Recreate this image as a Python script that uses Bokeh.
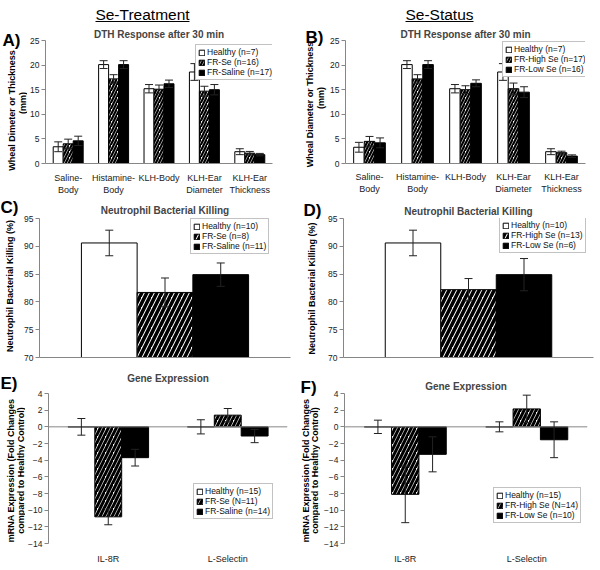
import math
from bokeh.plotting import figure
from bokeh.models import (ColumnDataSource, Whisker, TeeHead, Legend, LegendItem,
                          Label, Span, FixedTicker, Range1d, Plot)
from bokeh.layouts import column, row
from bokeh.embed import file_html
from bokeh.resources import INLINE

FONT = "Liberation Sans"

# ---------------- data ----------------
dth_categories = ["Saline-\nBody", "Histamine-\nBody", "KLH-Body", "KLH-Ear\nDiameter", "KLH-Ear\nThickness"]
dth_ticks = [0, 5, 10, 15, 20, 25]

a_series = ["Healthy (n=7)", "FR-Se (n=16)", "FR-Saline (n=17)"]
a_healthy = [3.4, 20.1, 15.2, 18.6, 2.4]
a_healthy_err = [1.0, 0.8, 0.85, 1.7, 0.6]
a_frse = [4.0, 17.2, 15.1, 14.7, 2.1]
a_frse_err = [0.95, 0.85, 0.85, 1.0, 0.35]
a_frsal = [4.6, 20.1, 16.2, 15.0, 1.8]
a_frsal_err = [0.95, 0.8, 0.75, 1.05, 0.25]

b_series = ["Healthy (n=7)", "FR-High Se (n=17)", "FR-Low Se (n=16)"]
b_healthy = [3.3, 20.1, 15.2, 18.6, 2.4]
b_healthy_err = [1.0, 0.8, 0.85, 1.7, 0.6]
b_high = [4.5, 17.2, 15.0, 15.2, 2.2]
b_high_err = [1.0, 0.85, 0.8, 1.15, 0.3]
b_low = [4.2, 20.1, 16.3, 14.5, 1.5]
b_low_err = [1.0, 0.8, 0.7, 1.1, 0.25]

kill_categories = [""]
kill_ticks = [70, 75, 80, 85, 90, 95]
c_series = ["Healthy (n=10)", "FR-Se (n=8)", "FR-Saline (n=11)"]
c_values = [90.6, 81.7, 84.9]
c_errors = [2.3, 2.6, 2.1]
d_series = ["Healthy (n=10)", "FR-High Se (n=13)", "FR-Low Se (n=6)"]
d_values = [90.6, 82.2, 84.9]
d_errors = [2.3, 2.0, 2.9]

gene_categories = ["IL-8R", "L-Selectin"]
gene_ticks = [4, 2, 0, -2, -4, -6, -8, -10, -12, -14]
e_series = ["Healthy (n=15)", "FR-Se (N=11)", "FR-Saline (n=14)"]
e_healthy = [0.0, 0.0]
e_healthy_err = [1.0, 0.85]
e_frse = [-10.8, 1.4]
e_frse_err = [0.95, 0.8]
e_frsal = [-3.7, -1.1]
e_frsal_err = [1.0, 0.8]

f_series = ["Healthy (n=15)", "FR-High Se (N=14)", "FR-Low Se (n=10)"]
f_healthy = [0.0, 0.0]
f_healthy_err = [0.8, 0.6]
f_high = [-8.1, 2.15]
f_high_err = [3.4, 1.65]
f_low = [-3.3, -1.55]
f_low_err = [2.1, 2.15]

headers = ["Se-Treatment", "Se-Status"]
panel_letters = ["A)", "B)", "C)", "D)", "E)", "F)"]
dth_ylabels = [["Wheal Dimeter or Thickness", "(mm)"], ["Wheal Diameter or Thickness", "(mm)"]]
kill_ylabel = ["Neutrophil Bacterial Killing (%)"]
gene_ylabel = ["mRNA Expression (Fold Changes", "compared to Healthy Control)"]

AXIS_GREY = "#868686"
HAS_FRAME_ALIGN = "frame_align" in Plot.properties()


def blank(width, height):
    p = figure(width=width, height=height, output_backend="svg", toolbar_location=None,
               x_range=Range1d(0, width), y_range=Range1d(0, height),
               x_axis_type=None, y_axis_type=None, title_location=None,
               min_border_left=0, min_border_right=0, min_border_top=0, min_border_bottom=0)
    p.outline_line_color = None
    p.xgrid.visible = False
    p.ygrid.visible = False
    if HAS_FRAME_ALIGN:
        p.frame_align = False
    return p


def gutter(width, height, letter, letter_pos, lines, line_pos):
    g = blank(width, height)
    lx, ly = letter_pos
    g.add_layout(Label(x=lx, y=height - ly, text=letter, text_font=FONT,
                       text_font_size="17px", text_font_style="bold",
                       text_align="left", text_baseline="middle", text_color="black"))
    for txt, (tx, ty) in zip(lines, line_pos):
        g.add_layout(Label(x=tx, y=height - ty, text=txt, angle=math.pi / 2,
                           text_font=FONT, text_font_size="9px", text_font_style="bold",
                           text_align="center", text_baseline="middle", text_color="black"))
    return g


def make_panel(width, height, borders, x_range, y_range, yticks, title,
               categories, series, values, errors, bar_width, legend_loc,
               hatch_scale, hatch_weight, bar_base=0.0, zero_line=False,
               show_xaxis_line=True, xlabel_standoff=4, title_standoff=2,
               title_valign="bottom", xlabel_size="9px"):
    left, right, top, bottom = borders
    p = figure(width=width, height=height, output_backend="svg", toolbar_location=None,
               x_range=Range1d(*x_range), y_range=Range1d(*y_range),
               min_border_left=left, min_border_right=right,
               min_border_top=top, min_border_bottom=bottom)
    p.outline_line_color = None
    p.xgrid.visible = False
    p.ygrid.visible = False

    p.title.text = title
    p.title.align = "center"
    p.title.vertical_align = title_valign
    p.title.text_font = FONT
    p.title.text_font_size = "10px"
    p.title.text_font_style = "bold"
    p.title.standoff = title_standoff

    yax = p.yaxis[0]
    yax.ticker = FixedTicker(ticks=yticks)
    yax.minor_tick_line_color = None
    yax.axis_line_color = AXIS_GREY
    yax.major_tick_line_color = AXIS_GREY
    yax.major_tick_out = 4
    yax.major_tick_in = 0
    yax.major_label_text_font = FONT
    yax.major_label_text_font_size = "8.5px"
    yax.major_label_text_color = "#222222"
    yax.major_label_standoff = 2

    xax = p.xaxis[0]
    idx = list(range(len(categories)))
    xax.ticker = FixedTicker(ticks=idx)
    xax.major_label_overrides = {i: c for i, c in zip(idx, categories)}
    xax.minor_tick_line_color = None
    xax.major_tick_line_color = None
    xax.major_tick_out = 0
    xax.major_tick_in = 0
    xax.axis_line_color = AXIS_GREY if show_xaxis_line else None
    xax.major_label_text_font = FONT
    xax.major_label_text_font_size = xlabel_size
    xax.major_label_text_color = "#222222"
    xax.major_label_standoff = xlabel_standoff

    styles = [
        dict(fill_color="white", line_color="black"),
        dict(fill_color="white", line_color="black", hatch_pattern="right_diagonal_line",
             hatch_color="black", hatch_scale=hatch_scale, hatch_weight=hatch_weight),
        dict(fill_color="black", line_color="black"),
    ]
    n = len(series)
    offsets = [(k - (n - 1) / 2) * bar_width for k in range(n)]
    items = []
    sources = []
    for k in range(n):
        vals = values[k]
        errs = errors[k]
        src = ColumnDataSource(dict(
            x=[i + offsets[k] for i in idx],
            top=vals,
            upper=[v + e for v, e in zip(vals, errs)],
            lower=[v - e for v, e in zip(vals, errs)],
        ))
        r = p.vbar(x="x", top="top", bottom=bar_base, width=bar_width, source=src,
                   line_width=1, **styles[k])
        items.append(LegendItem(label=series[k], renderers=[r]))
        sources.append(src)

    if zero_line:
        p.add_layout(Span(location=0, dimension="width", line_color=AXIS_GREY, line_width=1))

    for src in sources:
        w = Whisker(base="x", upper="upper", lower="lower", source=src,
                    line_color="#222222", line_width=1,
                    upper_head=TeeHead(size=8, line_color="#222222", line_width=1),
                    lower_head=TeeHead(size=8, line_color="#222222", line_width=1))
        w.level = "overlay"
        p.add_layout(w)

    legend = Legend(items=items, location=legend_loc)
    legend.border_line_color = AXIS_GREY
    legend.border_line_width = 1
    legend.background_fill_color = "white"
    legend.background_fill_alpha = 1.0
    legend.label_text_font = FONT
    legend.label_text_font_size = "8.5px"
    legend.label_text_color = "#111111"
    legend.glyph_width = 7
    legend.glyph_height = 7
    legend.label_height = 8
    legend.label_standoff = 2
    legend.spacing = 0
    legend.padding = 2
    legend.margin = 0
    p.add_layout(legend)
    return p


# ---------------- header strip ----------------
H0 = 25
hdr = blank(600, H0)
hdr.add_layout(Label(x=142, y=H0 - 14, text=headers[0], text_font=FONT, text_font_size="15.5px",
                     text_align="center", text_baseline="middle", text_color="black"))
hdr.add_layout(Label(x=439, y=H0 - 14, text=headers[1], text_font=FONT, text_font_size="15.5px",
                     text_align="center", text_baseline="middle", text_color="black"))
hdr.segment(x0=[95, 405], y0=[H0 - 21, H0 - 21], x1=[189, 473], y1=[H0 - 21, H0 - 21],
            line_color="black", line_width=1)

# ---------------- row 1 : DTH ----------------
R1 = 172
gA = gutter(27, R1, panel_letters[0], (2, 15), dth_ylabels[0], [(11.5, 85), (22.5, 77.5)])
pA = make_panel(273, R1, (15, 28, 15, 34), (-0.5, 4.5), (0, 25), dth_ticks,
                "DTH Response after 30 min", dth_categories, a_series,
                [a_healthy, a_frse, a_frsal], [a_healthy_err, a_frse_err, a_frsal_err],
                0.22, (150, 83), 6, 2.2, xlabel_standoff=9, title_standoff=1)
gB = gutter(27, R1, panel_letters[1], (5, 11.5), dth_ylabels[1], [(9, 79), (20.5, 72.5)])
pB = make_panel(273, R1, (15, 15, 15, 31), (-0.5, 4.5), (0, 25), dth_ticks,
                "DTH Response after 30 min", dth_categories, b_series,
                [b_healthy, b_high, b_low], [b_healthy_err, b_high_err, b_low_err],
                0.22, (157, 86), 6, 2.2, xlabel_standoff=8, title_standoff=1)

# ---------------- row 2 : killing ----------------
R2 = 167
gC = gutter(21, R2, panel_letters[2], (0, 9.5), kill_ylabel, [(9.5, 88.5)])
pC = make_panel(279, R2, (17, 10, 21, 7), (-0.5, 0.5), (70, 95), kill_ticks,
                "Neutrophil Bacterial Killing", kill_categories, c_series,
                [[v] for v in c_values], [[e] for e in c_errors], 0.222, (151, 103),
                10, 3.5, bar_base=70, xlabel_standoff=0, title_standoff=5,
                xlabel_size="1px")
gD = gutter(22, R2, panel_letters[3], (3, 12.5), kill_ylabel, [(11, 91)])
pD = make_panel(278, R2, (21, 7, 21, 7), (-0.5, 0.5), (70, 95), kill_ticks,
                "Neutrophil Bacterial Killing", kill_categories, d_series,
                [[v] for v in d_values], [[e] for e in d_errors], 0.222, (156, 104),
                10, 3.5, bar_base=70, xlabel_standoff=0, title_standoff=4,
                xlabel_size="1px")

# ---------------- row 3 : gene expression ----------------
R3 = 206
gE = gutter(25, R3, panel_letters[4], (0, 18.5), gene_ylabel, [(10, 106), (20, 106)])
pE = make_panel(275, R3, (23, 13, 29, 27), (-0.5, 1.5), (-14, 4), gene_ticks,
                "Gene Expression", gene_categories, e_series,
                [e_healthy, e_frse, e_frsal], [e_healthy_err, e_frse_err, e_frsal_err],
                0.225, (145, 24), 8, 3.0, zero_line=True, show_xaxis_line=False,
                xlabel_standoff=10, title_standoff=15, title_valign="top")
gF = gutter(20, R3, panel_letters[5], (0, 22.5), gene_ylabel, [(5, 106), (14, 106)])
pF = make_panel(280, R3, (24, 13, 29, 27), (-0.5, 1.5), (-14, 4), gene_ticks,
                "Gene Expression", gene_categories, f_series,
                [f_healthy, f_high, f_low], [f_healthy_err, f_high_err, f_low_err],
                0.225, (149, 20), 8, 3.0, zero_line=True, show_xaxis_line=False,
                xlabel_standoff=10, title_standoff=3)

layout = column(hdr,
                row(gA, pA, gB, pB),
                row(gC, pC, gD, pD),
                row(gE, pE, gF, pF))

open("out.html", "w").write(file_html(layout, INLINE))
